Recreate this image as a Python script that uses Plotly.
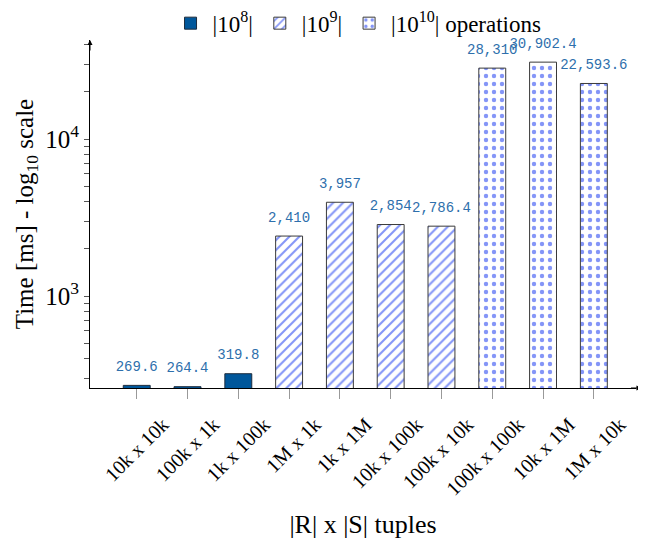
import plotly.graph_objects as go

# ---- data ----
categories = ["10k x 10k", "100k x 1k", "1k x 100k", "1M x 1k", "1k x 1M",
              "10k x 100k", "100k x 10k", "100k x 100k", "10k x 1M", "1M x 10k"]
times_ms = [269.6, 264.4, 319.8, 2410, 3957, 2854, 2786.4, 28310, 30902.4, 22593.6]
op_group = ["1e8", "1e8", "1e8", "1e9", "1e9", "1e9", "1e9", "1e10", "1e10", "1e10"]
group_order = ["1e8", "1e9", "1e10"]
group_labels = ["|10<sup>8</sup>|", "|10<sup>9</sup>|", "|10<sup>10</sup>| operations"]

y_tickvals = [300, 400, 500, 600, 700, 800, 900, 1000,
              2000, 3000, 4000, 5000, 6000, 7000, 8000, 9000, 10000,
              20000, 30000, 40000]
y_major = {1000: "10<sup>3</sup>", 10000: "10<sup>4</sup>"}
y_ticktext = [y_major.get(v, "") for v in y_tickvals]

SERIF = "Liberation Serif"
BLUE = "#0a2cf0"
styles = {
    "1e8": dict(color="#00579b", line=dict(color="#1c2b3c", width=1)),
    "1e9": dict(color="white", line=dict(color="#3a3a3a", width=1),
                pattern=dict(shape="/", fgcolor=BLUE, bgcolor="white", size=7, solidity=0.3)),
    "1e10": dict(color="white", line=dict(color="#3a3a3a", width=1),
                 pattern=dict(shape=".", fgcolor=BLUE, bgcolor="white", size=8, solidity=0.24)),
}

fig = go.Figure()
for g, lab in zip(group_order, group_labels):
    xs = [c for c, gg in zip(categories, op_group) if gg == g]
    ys = [t for t, gg in zip(times_ms, op_group) if gg == g]
    fig.add_trace(go.Bar(x=xs, y=ys, name=lab, width=0.53, marker=styles[g]))

fig.add_trace(go.Scatter(
    x=categories, y=times_ms, mode="markers+text", showlegend=False,
    marker=dict(size=16, opacity=0), hoverinfo="skip",
    texttemplate="%{y:,.1~f}", textposition="top center",
    textfont=dict(family="Liberation Mono", size=14, color="#2e6fac"),
    cliponaxis=False,
))

fig.update_layout(
    width=646, height=550,
    margin=dict(l=82, r=18, t=32, b=170, autoexpand=False),
    paper_bgcolor="white", plot_bgcolor="white",
    barmode="overlay",
    font=dict(family=SERIF, color="black"),
    legend=dict(orientation="h", x=0.49, xanchor="center", y=1.11, yanchor="top",
                font=dict(family=SERIF, size=23), bgcolor="rgba(0,0,0,0)",
                itemwidth=34, tracegroupgap=0),
)

fig.update_xaxes(
    categoryorder="array", categoryarray=categories,
    range=[-0.92, 9.83], automargin=False,
    showline=True, linecolor="black", linewidth=1,
    ticks="outside", ticklen=10, tickcolor="#999999", tickwidth=1,
    tickangle=-45, tickfont=dict(family=SERIF, size=20),
    ticklabelshift=26, ticklabelstandoff=6,
    showgrid=False, zeroline=False,
    title=dict(text="|R| x |S| tuples", font=dict(family=SERIF, size=26), standoff=16),
)
fig.update_yaxes(
    type="log", range=[2.414, 4.631], automargin=False,
    tickmode="array", tickvals=y_tickvals, ticktext=y_ticktext,
    showline=True, linecolor="black", linewidth=1,
    ticks="outside", ticklen=5, tickcolor="#555555",
    tickfont=dict(family=SERIF, size=25),
    showgrid=False, zeroline=False,
    title=dict(text="Time [ms] - log<sub>10</sub> scale", font=dict(family=SERIF, size=25), standoff=4),
)

# axis arrowheads
fig.add_annotation(x=0, y=1, xref="paper", yref="paper", text="", showarrow=True,
                   ax=0, ay=12, arrowhead=2, arrowsize=1, arrowwidth=1, arrowcolor="black")
fig.add_annotation(x=1.01, y=0, xref="paper", yref="paper", text="", showarrow=True,
                   ax=-12, ay=0, arrowhead=2, arrowsize=1, arrowwidth=1, arrowcolor="black")

fig.write_html("out.html")
